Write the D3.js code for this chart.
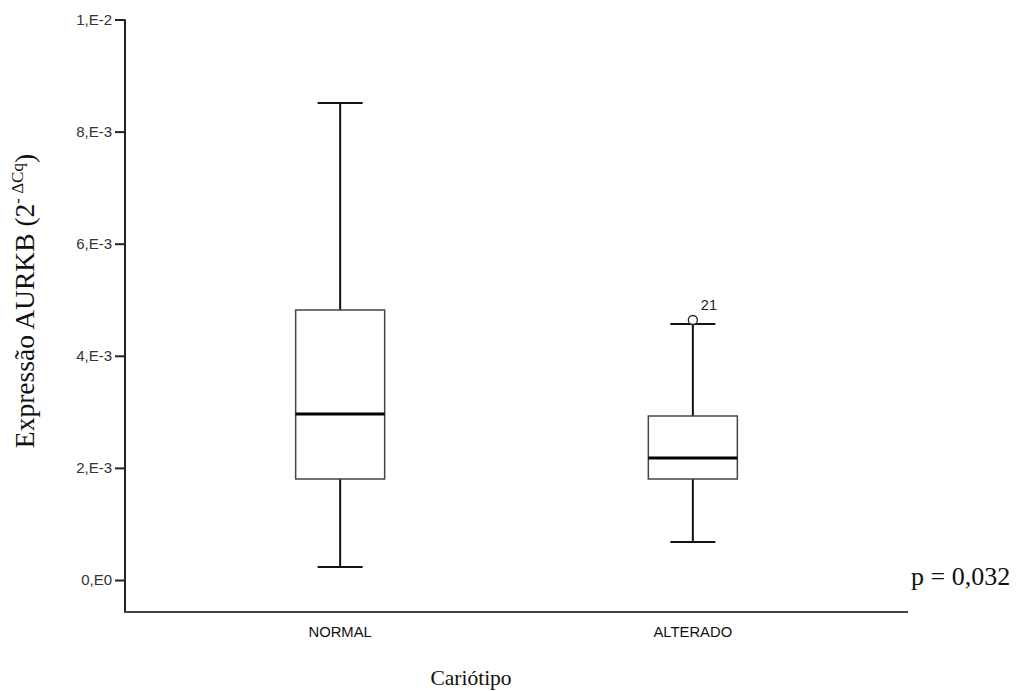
<!DOCTYPE html>
<html>
<head>
<meta charset="utf-8">
<script src="https://cdn.jsdelivr.net/npm/d3@7"></script>
<style>
  body { margin: 0; background: #fff; }
  svg { display: block; }
</style>
</head>
<body>
<div id="chart"></div>
<script>
// data
var categories = ["NORMAL", "ALTERADO"];
var whiskerLow = [0.000232, 0.000678];
var q1 = [0.001802, 0.001802];
var median = [0.002962, 0.002177];
var q3 = [0.004817, 0.002926];
var whiskerHigh = [0.00851, 0.004567];
var outliers = [{ cat: "ALTERADO", value: 0.004639, label: "21" }];
var yTicks = [0, 0.002, 0.004, 0.006, 0.008, 0.01];
var yTickLabels = ["0,E0", "2,E-3", "4,E-3", "6,E-3", "8,E-3", "1,E-2"];

var W = 1019, H = 691;
var margin = { top: 19.5, right: 111, bottom: 79, left: 125 };

var svg = d3.select("#chart")
  .append("svg")
  .attr("width", W)
  .attr("height", H);

var x = d3.scalePoint()
  .domain(categories)
  .range([margin.left, W - margin.right])
  .padding(0.61);

var y = d3.scaleLinear()
  .domain([0, 0.01])
  .range([580, margin.top]);

var boxW = 89, capW = 45;
var sans = "Arial, 'Liberation Sans', sans-serif";
var serif = "'Times New Roman', 'Liberation Serif', serif";

// y axis
var yAxis = svg.append("g")
  .attr("transform", "translate(" + margin.left + ",0)")
  .call(d3.axisLeft(y).tickValues(yTicks)
    .tickFormat(function (d, i) { return yTickLabels[i]; })
    .tickSize(10).tickSizeOuter(0));
yAxis.select(".domain").remove();
yAxis.selectAll(".tick line").attr("stroke", "#222").attr("stroke-width", 2);
yAxis.selectAll(".tick text")
  .attr("font-family", sans)
  .attr("font-size", 15)
  .attr("fill", "#333")
  .attr("x", -13);

// axes lines
svg.append("line")
  .attr("x1", margin.left).attr("x2", margin.left)
  .attr("y1", y(0.01)).attr("y2", 612)
  .attr("stroke", "#222").attr("stroke-width", 2);
svg.append("line")
  .attr("x1", margin.left - 1).attr("x2", W - margin.right)
  .attr("y1", 612).attr("y2", 612)
  .attr("stroke", "#444").attr("stroke-width", 2);

// category labels
svg.selectAll(".cat")
  .data(categories)
  .enter().append("text")
  .attr("x", function (d) { return x(d); })
  .attr("y", 637)
  .attr("text-anchor", "middle")
  .attr("font-family", sans)
  .attr("font-size", 14.8)
  .attr("fill", "#111")
  .text(function (d) { return d; });

// boxes
var g = svg.selectAll(".box")
  .data(categories)
  .enter().append("g");

g.append("line") // whisker
  .attr("x1", function (d) { return x(d); })
  .attr("x2", function (d) { return x(d); })
  .attr("y1", function (d, i) { return y(whiskerLow[i]); })
  .attr("y2", function (d, i) { return y(whiskerHigh[i]); })
  .attr("stroke", "#111").attr("stroke-width", 2);

g.append("line") // low cap
  .attr("x1", function (d) { return x(d) - capW / 2; })
  .attr("x2", function (d) { return x(d) + capW / 2; })
  .attr("y1", function (d, i) { return y(whiskerLow[i]); })
  .attr("y2", function (d, i) { return y(whiskerLow[i]); })
  .attr("stroke", "#111").attr("stroke-width", 2);

g.append("line") // high cap
  .attr("x1", function (d) { return x(d) - capW / 2; })
  .attr("x2", function (d) { return x(d) + capW / 2; })
  .attr("y1", function (d, i) { return y(whiskerHigh[i]); })
  .attr("y2", function (d, i) { return y(whiskerHigh[i]); })
  .attr("stroke", "#111").attr("stroke-width", 2);

g.append("rect")
  .attr("x", function (d) { return x(d) - boxW / 2; })
  .attr("width", boxW)
  .attr("y", function (d, i) { return y(q3[i]); })
  .attr("height", function (d, i) { return y(q1[i]) - y(q3[i]); })
  .attr("fill", "#fff")
  .attr("stroke", "#444").attr("stroke-width", 1.5);

g.append("line") // median
  .attr("x1", function (d) { return x(d) - boxW / 2; })
  .attr("x2", function (d) { return x(d) + boxW / 2; })
  .attr("y1", function (d, i) { return y(median[i]); })
  .attr("y2", function (d, i) { return y(median[i]); })
  .attr("stroke", "#000").attr("stroke-width", 3);

// outliers
svg.selectAll(".out")
  .data(outliers)
  .enter().append("circle")
  .attr("cx", function (d) { return x(d.cat); })
  .attr("cy", function (d) { return y(d.value); })
  .attr("r", 4.5)
  .attr("fill", "#fff")
  .attr("stroke", "#222").attr("stroke-width", 1.3);
svg.selectAll(".outlab")
  .data(outliers)
  .enter().append("text")
  .attr("x", function (d) { return x(d.cat) + 8; })
  .attr("y", function (d) { return y(d.value) - 10; })
  .attr("font-family", sans)
  .attr("font-size", 14.5)
  .attr("fill", "#222")
  .text(function (d) { return d.label; });

// titles
var yt = svg.append("text")
  .attr("transform", "translate(34,301) rotate(-90)")
  .attr("text-anchor", "middle")
  .attr("font-family", serif)
  .attr("font-size", 27.5)
  .attr("fill", "#111");
yt.append("tspan").text("Expressão AURKB (2");
yt.append("tspan").attr("font-size", 17).attr("dy", -11).text("- ΔCq");
yt.append("tspan").attr("dy", 11).text(")");

svg.append("text")
  .attr("x", 471).attr("y", 685)
  .attr("text-anchor", "middle")
  .attr("font-family", serif)
  .attr("font-size", 21.5)
  .attr("fill", "#111")
  .text("Cariótipo");

svg.append("text")
  .attr("x", 911).attr("y", 585)
  .attr("font-family", serif)
  .attr("font-size", 26)
  .attr("fill", "#111")
  .text("p = 0,032");
</script>
</body>
</html>
